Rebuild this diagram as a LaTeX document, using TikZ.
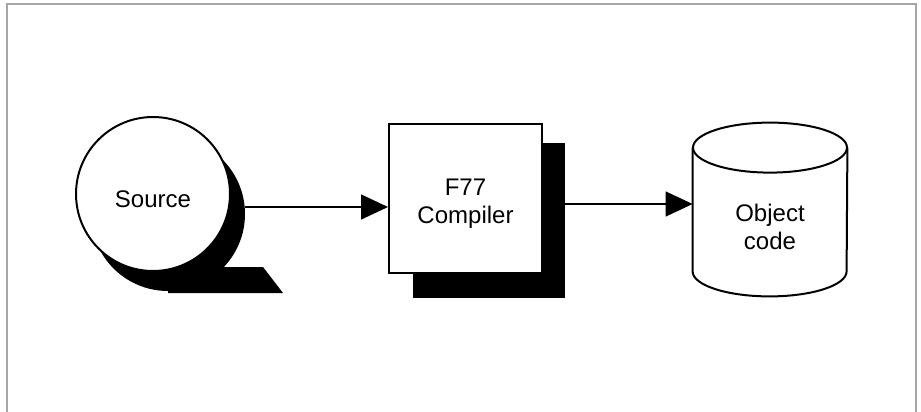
\documentclass[tikz,border=0pt]{standalone}
\usepackage{fontspec}
\setmainfont{Liberation Sans}
\usepackage{tikz}
\usetikzlibrary{arrows.meta,positioning,calc,backgrounds}

\begin{document}
\begin{tikzpicture}[x=0.5pt,y=-0.5pt,font=\fontsize{12}{14}\selectfont,
 tape/.style={circle,draw,line width=1pt,fill=white,minimum size=77pt,inner sep=0pt,text height=14pt},
 shade/.style={fill=black,draw=none,inner sep=0pt},
 proc/.style={draw,line width=1pt,fill=white,align=center,minimum width=76.5pt,minimum height=74.5pt,inner sep=0pt,text height=27pt},
 body/.style={align=center,minimum width=77pt,minimum height=49pt,inner sep=0pt,text height=28pt},
 dbline/.style={line width=1pt},
 arr/.style={-{Triangle[length=13.5pt,width=12.5pt]},line width=0.7pt}]
\useasboundingbox (0,0) rectangle (921,412);
% frame (no bottom rule)
\draw[gray!70,line width=0.6pt] (7,412) -- (7,4) -- (916,4) -- (916,412);
% nodes
\node[tape] (src) at (153,194) {Source};
\node[proc] (cmp) at (465.5,198.5) {F77\\Compiler};
\node[body] (obj) at (770,222) {Object\\code};
% shadows
\begin{scope}[on background layer]
\node[shade,circle,minimum size=77pt] (srcsh) at ($(src)+(15,20)$) {};
\fill ([shift={(0,79)}]srcsh.center) -- ++(115,0) -- ++(-20,-26) -- ++(-95,0) -- cycle;
\node[shade,minimum width=76pt,minimum height=77.5pt] (cmpsh) at ($(cmp)+(23.5,22)$) {};
\end{scope}
% database drum
\draw[dbline] ([shift={(0,-25)}]obj.north west) -- (obj.south west)
  arc[start angle=180,end angle=360,x radius=38.5pt,y radius=12.5pt]
  -- ([shift={(0,-25)}]obj.north east);
\draw[dbline] ([shift={(0,-25)}]obj.north) ellipse [x radius=38.5pt,y radius=12.5pt];
% connectors
\coordinate (feed) at ($(cmp.west)+(0,8.5)$);
\coordinate (emit) at ($(cmp.east)+(0,5.5)$);
\draw[arr] (srcsh.east |- feed) -- (feed);
\draw[arr] (cmpsh.east |- emit) -- (obj.west |- emit);
\end{tikzpicture}
\end{document}
